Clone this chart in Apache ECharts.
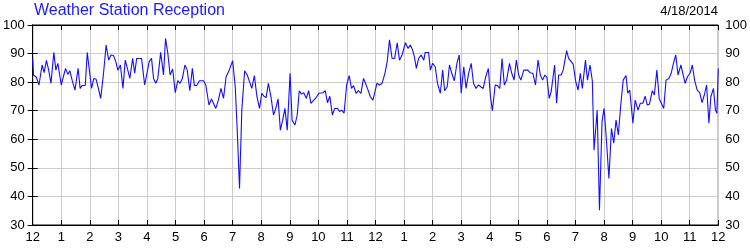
<!DOCTYPE html>
<html>
<head>
<meta charset="utf-8">
<script src="https://cdn.jsdelivr.net/npm/echarts@6/dist/echarts.min.js"></script>
<style>html,body{margin:0;padding:0;background:#fff}#c{width:750px;height:250px}</style>
</head>
<body>
<div id="c"></div>
<script>
const chartTitle = 'Weather Station Reception';
const chartDate = '4/18/2014';
const hourTicks = [12,1,2,3,4,5,6,7,8,9,10,11,12,1,2,3,4,5,6,7,8,9,10,11,12];
const times = [
0.00,0.03,0.13,0.22,0.33,0.40,0.48,0.56,0.64,0.74,0.81,0.88,1.00,1.15,1.23,1.30,1.38,1.48,1.59,1.66,1.73,1.84,1.91,2.06,2.14,2.22,2.30,2.38,2.48,2.57,2.66,2.74,2.83,2.91,2.98,3.07,3.16,3.24,3.33,3.40,3.50,3.57,3.64,3.81,3.92,3.99,4.08,4.16,4.23,4.31,4.38,4.48,4.58,4.65,4.73,4.81,4.90,4.99,5.08,5.16,5.24,5.33,5.41,5.50,5.59,5.66,5.74,5.84,5.98,
6.06,6.17,6.26,6.33,6.41,6.50,6.59,6.68,6.77,6.86,6.93,7.00,7.09,7.16,7.24,7.32,7.42,7.51,7.59,7.67,7.76,7.85,7.94,8.02,8.09,8.17,8.25,8.34,8.43,8.51,8.59,8.67,8.75,8.83,8.91,9.01,9.08,9.18,9.26,9.33,9.41,9.49,9.58,9.66,9.74,9.84,9.93,10.02,10.16,10.24,10.32,10.40,10.49,10.57,10.67,10.74,10.82,10.90,10.99,11.08,11.16,11.23,11.32,11.40,11.49,11.58,11.65,11.74,11.82,11.91,
12.05,12.14,12.23,12.33,12.41,12.49,12.58,12.67,12.76,12.84,12.93,13.05,13.14,13.22,13.30,13.36,13.43,13.51,13.60,13.69,13.74,13.86,13.92,14.00,14.09,14.17,14.27,14.35,14.42,14.51,14.59,14.67,14.76,14.85,14.93,15.00,15.09,15.17,15.26,15.35,15.43,15.52,15.60,15.67,15.77,15.86,15.95,16.02,16.09,16.19,16.27,16.35,16.43,16.51,16.59,16.69,16.77,16.85,16.93,17.01,17.09,17.19,17.33,17.41,17.51,17.60,17.69,17.77,17.85,17.93,
18.00,18.08,18.15,18.27,18.34,18.41,18.50,18.57,18.69,18.76,18.83,18.92,19.01,19.09,19.17,19.24,19.35,19.42,19.51,19.59,19.65,19.76,19.84,19.93,20.00,20.08,20.17,20.26,20.34,20.42,20.50,20.58,20.67,20.77,20.83,20.90,21.01,21.09,21.19,21.27,21.36,21.44,21.51,21.59,21.69,21.76,21.85,21.93,22.00,22.09,22.17,22.27,22.35,22.43,22.51,22.59,22.69,22.76,22.84,22.92,23.01,23.09,23.17,23.26,23.35,23.43,23.51,23.59,23.67,23.74,23.83,23.90,23.95,24.00
];
const signal = [
88.3,82.5,81.7,79.0,86.0,83.3,87.6,84.2,79.6,90.4,84.2,86.6,79.0,84.8,82.7,84.0,80.7,77.2,84.8,77.8,78.8,78.8,90.4,77.8,81.3,81.0,77.8,74.3,83.1,93.0,87.7,89.5,89.3,87.2,84.2,86.0,77.8,87.7,84.2,81.3,88.3,83.1,88.3,88.3,79.0,79.6,87.2,88.3,81.3,79.6,81.3,90.4,82.5,95.3,90.1,82.5,84.6,76.3,80.5,79.6,81.3,86.0,84.2,77.0,84.8,78.8,78.8,80.5,80.5,
79.0,72.0,74.1,74.3,70.8,73.7,77.8,74.3,81.9,83.7,84.2,87.5,78.4,63.2,42.8,70.2,84.0,82.5,80.2,77.8,82.3,74.9,70.8,76.1,75.1,74.6,79.6,74.9,68.5,70.8,74.1,63.2,66.7,70.8,63.2,83.1,66.7,65.0,68.5,77.0,75.8,76.3,74.3,77.0,72.6,73.7,74.7,76.1,76.3,77.0,72.8,75.1,68.5,70.8,70.8,69.7,70.2,69.1,79.0,82.3,77.8,78.8,76.1,77.0,76.1,81.3,79.6,77.2,74.9,73.7,
79.6,79.0,79.6,83.1,87.2,94.8,88.3,88.3,93.8,87.7,89.5,93.8,91.8,93.0,91.2,88.9,84.8,88.3,89.5,87.7,90.4,90.4,84.2,86.6,85.4,79.6,76.1,84.2,77.0,78.4,86.0,83.1,80.5,86.6,89.5,76.1,85.4,77.8,83.1,86.6,79.6,77.8,79.0,79.6,77.8,81.9,84.8,75.5,70.0,79.0,78.8,77.8,88.3,79.0,80.7,86.6,83.1,80.7,87.7,82.5,80.7,84.2,84.2,83.3,83.1,79.0,87.7,82.5,80.7,82.5,
81.7,74.3,76.7,86.0,72.6,82.5,82.5,84.2,91.0,88.3,88.1,86.3,80.2,77.2,83.1,77.8,87.7,80.7,86.0,80.5,56.2,70.2,35.2,66.2,70.8,60.3,46.3,63.8,58.6,66.7,61.5,71.4,80.7,82.3,76.1,77.2,65.6,73.7,70.2,72.6,72.6,75.1,72.0,72.3,77.0,75.5,84.2,74.3,74.3,70.8,80.7,81.3,83.1,86.6,89.5,82.5,86.0,86.0,79.6,81.9,83.1,86.0,80.7,77.2,76.3,72.8,75.5,79.0,65.6,74.9,77.8,70.2,69.1,84.8
];
const yMin = 30, yMax = 100, yStep = 10;

const points = times.map((t, i) => [t, signal[i]]);
const txt = '#000000';
const grid = '#cccccc';
const font = 'Liberation Sans, Arial, sans-serif';
const hourLabel = v => { const i = Math.round(v); return (i >= 0 && i < hourTicks.length) ? String(hourTicks[i]) : ''; };

const chart = echarts.init(document.getElementById('c'), null, {renderer: 'canvas'});
chart.setOption({
  animation: false,
  backgroundColor: '#ffffff',
  title: [
    {text: chartTitle, left: 34, top: 3, padding: 0, textStyle: {color: '#1a1aff', fontSize: 16, fontWeight: 'normal', fontFamily: font}},
    {text: chartDate, right: 32, top: 5, padding: 0, textStyle: {color: txt, fontSize: 13, fontWeight: 'normal', fontFamily: font}}
  ],
  grid: {left: 31, right: 30, top: 25, bottom: 25, containLabel: false, show: true, borderColor: '#000', borderWidth: 1},
  xAxis: [
    {type: 'value', min: 0, max: 24, interval: 1, position: 'bottom',
     axisLine: {show: true, lineStyle: {color: '#000', width: 1}},
     axisTick: {show: true, inside: true, length: 5, lineStyle: {color: '#000'}},
     axisLabel: {color: txt, fontSize: 13, fontFamily: font, margin: 6, formatter: hourLabel, showMinLabel: true, showMaxLabel: true},
     splitLine: {show: true, lineStyle: {color: grid, width: 1}}},
    {type: 'value', min: 0, max: 24, interval: 1, position: 'top',
     axisLine: {show: true, lineStyle: {color: '#000', width: 1}},
     axisTick: {show: true, inside: true, length: 5, lineStyle: {color: '#000'}},
     axisLabel: {show: false}, splitLine: {show: false}}
  ],
  yAxis: [
    {type: 'value', min: yMin, max: yMax, interval: yStep, position: 'left',
     axisLine: {show: true, lineStyle: {color: '#000', width: 1}},
     axisTick: {show: true, inside: true, length: 5, lineStyle: {color: '#000'}},
     axisLabel: {color: txt, fontSize: 13, fontFamily: font, margin: 8},
     splitLine: {show: true, lineStyle: {color: grid, width: 1}}},
    {type: 'value', min: yMin, max: yMax, interval: yStep, position: 'right',
     axisLine: {show: true, lineStyle: {color: '#000', width: 1}},
     axisTick: {show: true, inside: true, length: 5, lineStyle: {color: '#000'}},
     axisLabel: {color: txt, fontSize: 13, fontFamily: font, margin: 7},
     splitLine: {show: false}}
  ],
  series: [{
    type: 'line', data: points, xAxisIndex: 0, yAxisIndex: 0,
    showSymbol: false, symbol: 'none',
    lineStyle: {color: '#1010ff', width: 1.1},
    z: 5
  }]
});
</script>
</body>
</html>
